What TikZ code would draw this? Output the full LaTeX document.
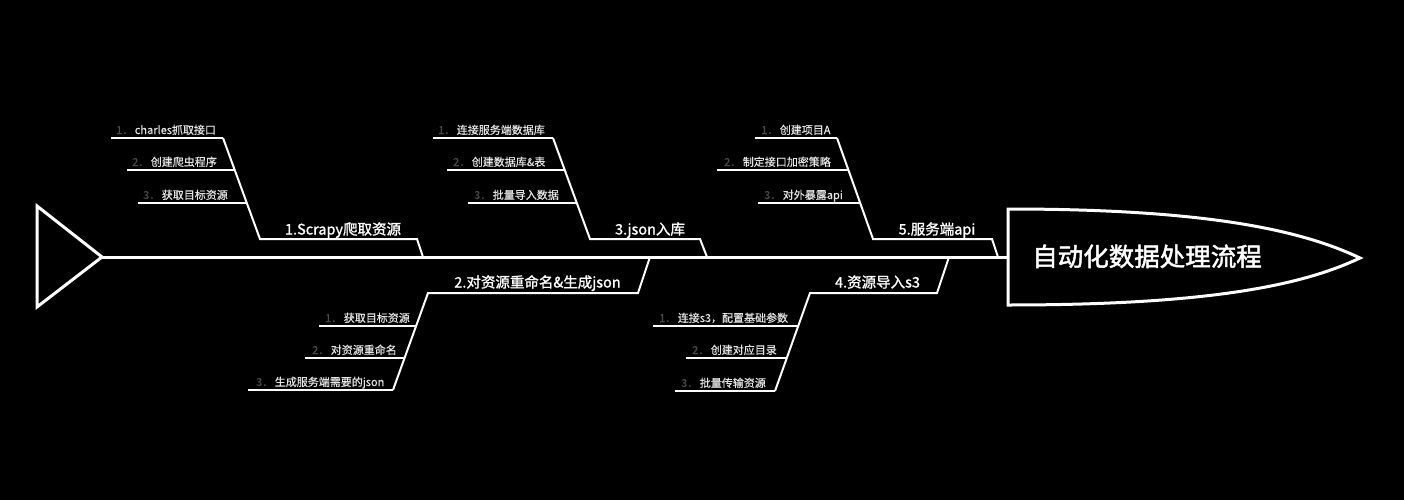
\documentclass[tikz,border=0pt]{standalone}
\usepackage{fontspec}
\setmainfont{Noto Sans CJK SC}
\newfontfamily\subfont[FakeBold=0.5]{Noto Sans CJK SC}
\newfontfamily\medfont[FakeBold=1.2]{Noto Sans CJK SC}
\newfontfamily\headfont[FakeBold=1.8]{Noto Sans CJK SC}
\definecolor{numgray}{HTML}{4A4A4A}
\definecolor{subtext}{HTML}{E4E4E4}
\begin{document}
\begin{tikzpicture}[x=1pt,y=-1pt,
  bone/.style={draw=white,line width=2pt,line join=miter},
  spineline/.style={draw=white,line width=3pt,line join=miter},
  sublabel/.style={anchor=base west,inner sep=0pt,text=subtext,font=\subfont\fontsize{11}{13}\selectfont},
  mainlabel/.style={anchor=base,inner sep=0pt,text=white,font=\medfont\fontsize{14.5}{17}\selectfont},
  headlabel/.style={anchor=base,inner sep=0pt,text=white,font=\headfont\fontsize{25.5}{30}\selectfont}]
\newcommand{\numb}[1]{{\color{numgray}#1．}\hspace{1.5pt}}
\fill[black] (0,0) rectangle (1404,500);
\useasboundingbox (0,0) rectangle (1404,500);

% tail
\coordinate (tailA) at (37,206);
\coordinate (tailTip) at (102,257);
\coordinate (tailB) at (37,307);
\draw[spineline] (tailA) -- (tailTip) -- (tailB) -- cycle;

% head
\coordinate (headTL) at (1008,209);
\coordinate (headBL) at (1008,305);
\coordinate (headTip) at (1360,258);
\coordinate (headL) at (1008,257);
\draw[spineline] (headTL) .. controls (1215,209) and (1305,232) .. (headTip)
  .. controls (1305,284) and (1215,305) .. (headBL) -- cycle;
\node[headlabel] (head) at (1147,266) {自动化数据处理流程};

% spine
\draw[spineline] (tailTip) -- (headL);

% ---------- branch 1 (top) ----------
\coordinate (b1T) at (223,138);
\coordinate (b1B) at (260,239);
\coordinate (b1H) at (417,239);
\coordinate (b1S) at (423,257);
\draw[bone] (b1T) -- (b1B) -- (b1H) -- (b1S);
\node[mainlabel] (m1) at (343,234.5) {1.Scrapy爬取资源};
\coordinate (b1s1) at (111,138);
\coordinate (b1s2) at (127,170); \coordinate (b1e2) at (234.7,170);
\coordinate (b1s3) at (138,203); \coordinate (b1e3) at (246.8,203);
\draw[bone] (b1s1) -- (b1T);
\draw[bone] (b1s2) -- (b1e2);
\draw[bone] (b1s3) -- (b1e3);
\node[sublabel] (t11) at (116,134) {\numb{1}charles抓取接口};
\node[sublabel] (t12) at (132,166) {\numb{2}创建爬虫程序};
\node[sublabel] (t13) at (143,199) {\numb{3}获取目标资源};

% ---------- branch 3 (top) ----------
\coordinate (b3T) at (553,138);
\coordinate (b3B) at (590,239);
\coordinate (b3H) at (700,239);
\coordinate (b3S) at (707,257);
\draw[bone] (b3T) -- (b3B) -- (b3H) -- (b3S);
\node[mainlabel] (m3) at (650,234.5) {3.json入库};
\coordinate (b3s1) at (433,138);
\coordinate (b3s2) at (447,170); \coordinate (b3e2) at (564.7,170);
\coordinate (b3s3) at (468,203); \coordinate (b3e3) at (576.8,203);
\draw[bone] (b3s1) -- (b3T);
\draw[bone] (b3s2) -- (b3e2);
\draw[bone] (b3s3) -- (b3e3);
\node[sublabel] (t31) at (438,134) {\numb{1}连接服务端数据库};
\node[sublabel] (t32) at (453,166) {\numb{2}创建数据库\&表};
\node[sublabel] (t33) at (474,199) {\numb{3}批量导入数据};

% ---------- branch 5 (top) ----------
\coordinate (b5T) at (837,138);
\coordinate (b5B) at (873,239);
\coordinate (b5H) at (992,239);
\coordinate (b5S) at (998,257);
\draw[bone] (b5T) -- (b5B) -- (b5H) -- (b5S);
\node[mainlabel] (m5) at (937,234.5) {5.服务端api};
\coordinate (b5s1) at (755,138);
\coordinate (b5s2) at (717,170); \coordinate (b5e2) at (848.4,170);
\coordinate (b5s3) at (758,203); \coordinate (b5e3) at (860.2,203);
\draw[bone] (b5s1) -- (b5T);
\draw[bone] (b5s2) -- (b5e2);
\draw[bone] (b5s3) -- (b5e3);
\node[sublabel] (t51) at (761,134) {\numb{1}创建项目A};
\node[sublabel] (t52) at (724,166) {\numb{2}制定接口加密策略};
\node[sublabel] (t53) at (764,199) {\numb{3}对外暴露api};

% ---------- branch 2 (bottom) ----------
\coordinate (b2S) at (650,257);
\coordinate (b2H) at (638,293);
\coordinate (b2T) at (428,293);
\coordinate (b2B) at (393,390);
\draw[bone] (b2S) -- (b2H) -- (b2T) -- (b2B);
\node[mainlabel] (m2) at (537.5,287.5) {2.对资源重命名\&生成json};
\coordinate (b2s1) at (319,326); \coordinate (b2e1) at (416.1,326);
\coordinate (b2s2) at (305,358); \coordinate (b2e2) at (404.5,358);
\coordinate (b2s3) at (248,390);
\draw[bone] (b2s1) -- (b2e1);
\draw[bone] (b2s2) -- (b2e2);
\draw[bone] (b2s3) -- (b2B);
\node[sublabel] (t21) at (325,322) {\numb{1}获取目标资源};
\node[sublabel] (t22) at (312,354) {\numb{2}对资源重命名};
\node[sublabel] (t23) at (256,386) {\numb{3}生成服务端需要的json};

% ---------- branch 4 (bottom) ----------
\coordinate (b4S) at (949,257);
\coordinate (b4H) at (937,293);
\coordinate (b4T) at (810,293);
\coordinate (b4B) at (775,391);
\draw[bone] (b4S) -- (b4H) -- (b4T) -- (b4B);
\node[mainlabel] (m4) at (877.5,287.5) {4.资源导入s3};
\coordinate (b4s1) at (653,326); \coordinate (b4e1) at (798.2,326);
\coordinate (b4s2) at (686,358); \coordinate (b4e2) at (786.8,358);
\coordinate (b4s3) at (675,391);
\draw[bone] (b4s1) -- (b4e1);
\draw[bone] (b4s2) -- (b4e2);
\draw[bone] (b4s3) -- (b4B);
\node[sublabel] (t41) at (659,322) {\numb{1}连接s3，配置基础参数};
\node[sublabel] (t42) at (692,354) {\numb{2}创建对应目录};
\node[sublabel] (t43) at (681,387) {\numb{3}批量传输资源};
\end{tikzpicture}
\end{document}
